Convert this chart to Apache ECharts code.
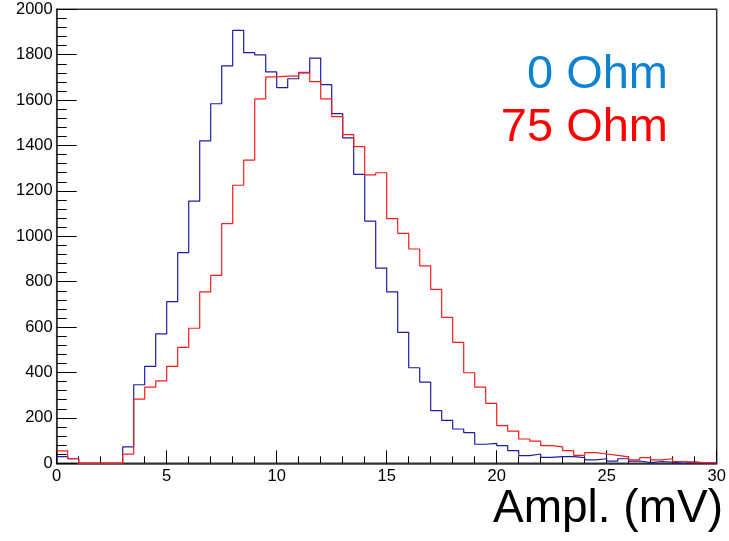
<!DOCTYPE html>
<html>
<head>
<meta charset="utf-8">
<script src="https://cdn.jsdelivr.net/npm/echarts@6/dist/echarts.min.js"></script>
<style>
  html, body { margin: 0; padding: 0; background: #fff; }
  #chart { width: 729px; height: 541px; }
</style>
</head>
<body>
<div id="chart"></div>
<script>
// histogram bins: 60 bins of 0.5 mV from 0 to 30
const binWidth = 0.5
const xMin = 0
const xMax = 30

// 0 Ohm
const blueCounts = [
  29, 20, 0, 0, 0, 0, 72, 346, 427, 570,
  712, 928, 1155, 1420, 1584, 1751, 1907, 1809, 1799, 1724,
  1655, 1694, 1720, 1785, 1668, 1540, 1434, 1273, 1067, 860,
  755, 577, 421, 358, 232, 189, 151, 135, 84, 88,
  78, 56, 34, 41, 26, 29, 29, 25, 15, 20,
  10, 20, 10, 3, 8, 5, 0, 6, 0, 0
]

// 75 Ohm
const redCounts = [
  55, 20, 0, 0, 0, 0, 40, 283, 336, 363,
  427, 511, 595, 755, 828, 1056, 1225, 1336, 1605, 1702,
  1706, 1706, 1722, 1681, 1605, 1527, 1448, 1395, 1271, 1280,
  1078, 1013, 944, 870, 766, 643, 533, 399, 336, 264,
  166, 142, 107, 98, 78, 72, 56, 35, 47, 41,
  35, 28, 15, 25, 15, 20, 8, 5, 3, 3
]

const xTicks = [0, 5, 10, 15, 20, 25, 30]
const yTicks = [0, 200, 400, 600, 800, 1000, 1200, 1400, 1600, 1800, 2000]

// step points at left bin edges, plus closing point at the right edge
function toSteps(counts) {
  const pts = counts.map((c, i) => [xMin + i * binWidth, c])
  pts.push([xMin + counts.length * binWidth, counts[counts.length - 1]])
  return pts
}

const chart = echarts.init(document.getElementById('chart'), null, { renderer: 'canvas' })

const axisFont = { fontFamily: 'Liberation Sans', fontSize: 16.5, color: '#000' }

const option = {
  animation: false,
  backgroundColor: '#fff',
  grid: {
    left: 56.7,
    right: 12.3,
    top: 9.3,
    bottom: 77.7,
    show: true,
    borderColor: '#333',
    borderWidth: 1.5
  },
  xAxis: {
    type: 'value',
    min: xMin,
    max: xMax,
    interval: 5,
    axisLine: { show: true, onZero: false, lineStyle: { color: '#333', width: 1.5 } },
    axisTick: { show: true, inside: true, length: 13, lineStyle: { color: '#000' } },
    minorTick: { show: true, splitNumber: 5, length: 7, lineStyle: { color: '#000' } },
    splitLine: { show: false },
    axisLabel: Object.assign({ margin: 5, showMinLabel: true, showMaxLabel: true,
      formatter: v => xTicks.includes(v) ? String(v) : '' }, axisFont)
  },
  yAxis: {
    type: 'value',
    min: 0,
    max: 2000,
    interval: 200,
    axisLine: { show: true, onZero: false, lineStyle: { color: '#333', width: 1.5 } },
    axisTick: { show: true, inside: true, length: 20, lineStyle: { color: '#000' } },
    minorTick: { show: true, splitNumber: 5, length: 10, lineStyle: { color: '#000' } },
    splitLine: { show: false },
    axisLabel: Object.assign({ margin: 4,
      formatter: v => yTicks.includes(v) ? String(v) : '' }, axisFont)
  },
  series: [
    {
      name: '0 Ohm',
      type: 'line',
      step: 'end',
      showSymbol: false,
      symbol: 'none',
      lineStyle: { color: '#1c1ca8', width: 1.2 },
      data: toSteps(blueCounts)
    },
    {
      name: '75 Ohm',
      type: 'line',
      step: 'end',
      showSymbol: false,
      symbol: 'none',
      lineStyle: { color: '#ff1a1a', width: 1.2 },
      data: toSteps(redCounts)
    }
  ],
  graphic: [
    {
      type: 'text',
      right: 61,
      top: 52,
      style: { text: '0 Ohm', fill: '#0b82d2', font: '47px "Liberation Sans"' }
    },
    {
      type: 'text',
      right: 61,
      top: 105,
      style: { text: '75 Ohm', fill: '#ff0000', font: '47px "Liberation Sans"' }
    },
    {
      type: 'text',
      left: 493,
      top: 486,
      style: { text: 'Ampl. (mV)', fill: '#000', font: '46px "Liberation Sans"' }
    }
  ]
}

chart.setOption(option)
</script>
</body>
</html>
